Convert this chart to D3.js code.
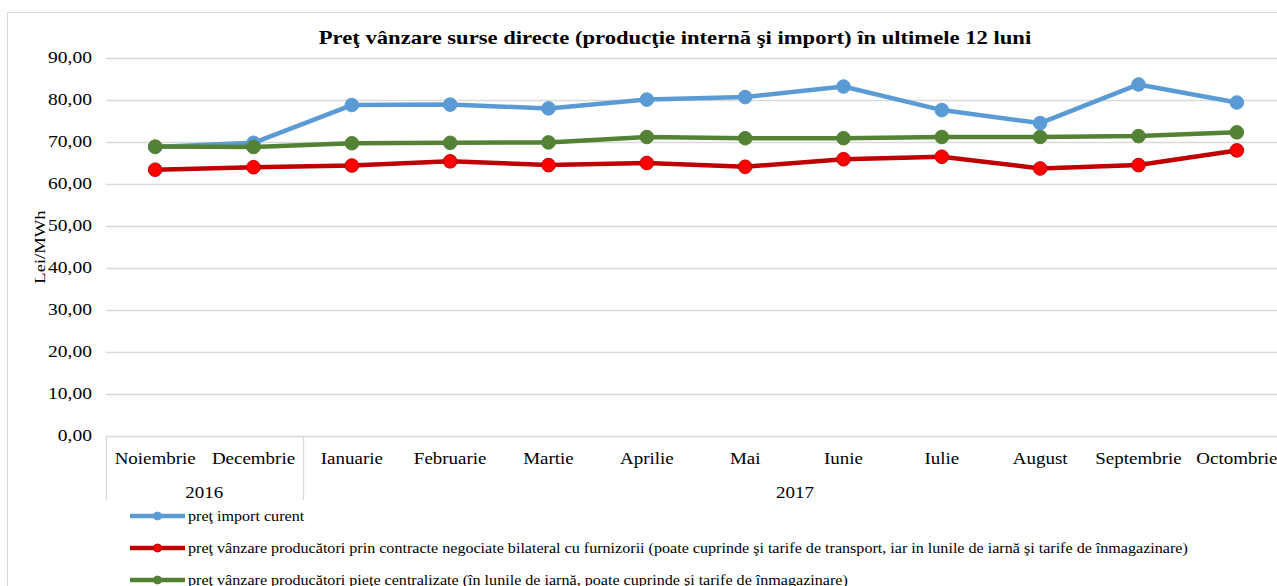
<!DOCTYPE html>
<html>
<head>
<meta charset="utf-8">
<script src="https://cdn.jsdelivr.net/npm/d3@7"></script>
<style>
	body { margin: 0; background: #fff; }
	svg { display: block; font-family: "Liberation Serif", "Times New Roman", serif; }
</style>
</head>
<body>
<script>
var months = ["Noiembrie", "Decembrie", "Ianuarie", "Februarie", "Martie", "Aprilie", "Mai", "Iunie", "Iulie", "August", "Septembrie", "Octombrie"];
var years = [{ label: "2016", from: 0, to: 2 }, { label: "2017", from: 2, to: 12 }];
var yTicks = [0, 10, 20, 30, 40, 50, 60, 70, 80, 90];

var importCurent = [68.8, 69.8, 78.8, 78.9, 78.0, 80.1, 80.7, 83.2, 77.6, 74.5, 83.7, 79.4];
var bilateral = [63.4, 64.0, 64.4, 65.4, 64.5, 65.0, 64.1, 65.9, 66.5, 63.7, 64.5, 68.0];
var centralizate = [68.9, 68.8, 69.7, 69.8, 69.9, 71.2, 70.9, 70.9, 71.2, 71.2, 71.4, 72.3];

var series = [
	{ name: "preţ import curent", values: importCurent, line: "#5b9bd5", fill: "#5b9bd5", stroke: "#5b9bd5" },
	{ name: "preţ vânzare producători prin contracte negociate bilateral cu furnizorii (poate cuprinde şi tarife de transport, iar in lunile de iarnă şi tarife de înmagazinare)", values: bilateral, line: "#c00000", fill: "#ff0000", stroke: "#c00000" },
	{ name: "preţ vânzare producători pieţe centralizate (în lunile de iarnă, poate cuprinde şi tarife de înmagazinare)", values: centralizate, line: "#548235", fill: "#548235", stroke: "#548235" }
];

var W = 1277, H = 586;
var pL = 106, pR = 1286, pT = 58, pB = 436;

var svg = d3.select("body").append("svg")
	.attr("width", W)
	.attr("height", H);

// text that is a bit wider than tall, like the picture
function label(sel, x, y, str, size, sx, anchor, weight) {
	return sel.append("text")
		.attr("transform", "translate(" + x + "," + y + ") scale(" + sx + ",1)")
		.attr("text-anchor", anchor || "middle")
		.style("font-size", size + "px")
		.style("font-weight", weight || "normal")
		.text(str);
}

// chart border
svg.append("rect")
	.attr("x", 7.5).attr("y", 12.5)
	.attr("width", 1300).attr("height", 600)
	.attr("fill", "none")
	.attr("stroke", "#d9d9d9");

var x = d3.scaleBand().domain(d3.range(months.length)).range([pL, pR]);
var y = d3.scaleLinear().domain([0, 90]).range([pB, pT]);

// gridlines
var yAxis = d3.axisLeft(y).tickValues(yTicks).tickSize(-(pR - pL)).tickFormat("");
var gy = svg.append("g")
	.attr("transform", "translate(" + pL + ",0)")
	.call(yAxis);
gy.select(".domain").remove();
gy.selectAll(".tick line").attr("stroke", "#d9d9d9").attr("stroke-width", 1.3);

var fmt = function(d) { return d3.format(".2f")(d).replace(".", ","); };
yTicks.forEach(function(t) {
	label(svg, 92, y(t) + 5, fmt(t), 16, 1.22, "end");
});

// category box lines
var vlines = [0, 2].map(function(i) { return x(i); });
svg.selectAll("line.sep")
	.data(vlines)
	.enter().append("line")
		.attr("x1", function(d) { return Math.round(d) + 0.5; })
		.attr("x2", function(d) { return Math.round(d) + 0.5; })
		.attr("y1", pB)
		.attr("y2", 500)
		.attr("stroke", "#d9d9d9")
		.attr("stroke-width", 1.3);

months.forEach(function(m, i) {
	label(svg, x(i) + x.bandwidth() / 2, 464, m, 16.5, 1.15);
});

years.forEach(function(d) {
	var cx = d.to === 12 ? 795 : (x(d.from) + x(d.to - 1) + x.bandwidth()) / 2;
	label(svg, cx, 498, d.label, 16.5, 1.15);
});

// title
label(svg, 675, 44, "Preţ vânzare surse directe (producţie internă şi import) în ultimele 12 luni", 19.5, 1.16, "middle", "bold");

// y title
svg.append("text")
	.attr("transform", "translate(45," + ((pT + pB) / 2) + ") rotate(-90) scale(1.2,1)")
	.attr("text-anchor", "middle")
	.style("font-size", "15.5px")
	.text("Lei/MWh");

// series
var cx = function(d, i) { return x(i) + x.bandwidth() / 2; };
var line = d3.line().x(cx).y(function(d) { return y(d); });

series.forEach(function(s) {
	var g = svg.append("g");
	g.append("path")
		.datum(s.values)
		.attr("d", line)
		.attr("fill", "none")
		.attr("stroke", s.line)
		.attr("stroke-width", 4.5)
		.attr("stroke-linejoin", "round");
	g.selectAll("circle")
		.data(s.values)
		.enter().append("circle")
			.attr("cx", cx)
			.attr("cy", function(d) { return y(d); })
			.attr("r", 6.8)
			.attr("fill", s.fill)
			.attr("stroke", s.stroke)
			.attr("stroke-width", 1);
});

// legend
var legend = svg.selectAll("g.legend")
	.data(series)
	.enter().append("g")
		.attr("transform", function(d, i) { return "translate(130," + (516 + i * 32) + ")"; });
legend.append("line")
	.attr("x1", 0).attr("x2", 55)
	.attr("stroke", function(d) { return d.line; })
	.attr("stroke-width", 4.5);
legend.append("circle")
	.attr("cx", 27.5).attr("r", 4)
	.attr("fill", function(d) { return d.fill; })
	.attr("stroke", function(d) { return d.stroke; });
legend.each(function(d) {
	label(d3.select(this), 58, 5, d.name, 14, 1.15, "start");
});
</script>
</body>
</html>
